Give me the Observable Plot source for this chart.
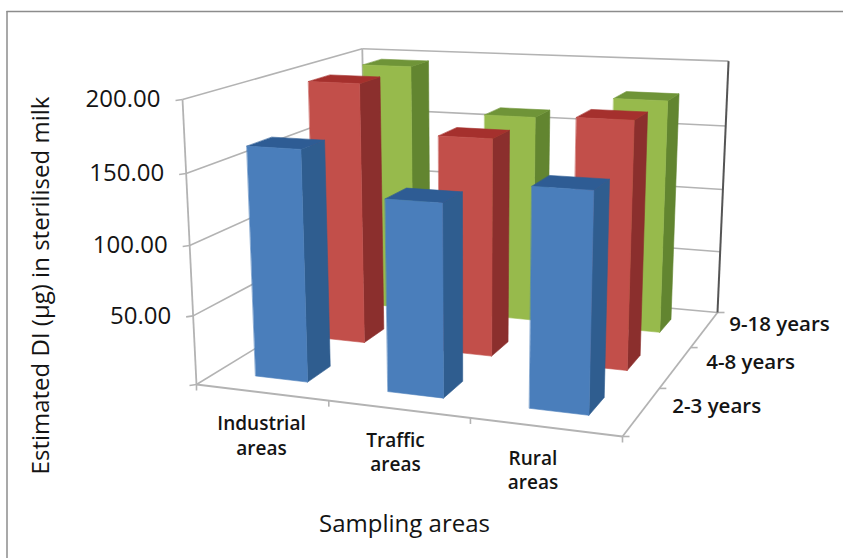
<!DOCTYPE html>
<html>
<head>
<meta charset="utf-8">
<style>
  html, body { margin: 0; padding: 0; background: #fff; }
  svg { display: block; }
</style>
<script src="https://cdn.jsdelivr.net/npm/d3@7/dist/d3.min.js"></script>
<script src="https://cdn.jsdelivr.net/npm/@observablehq/plot@0.6/dist/plot.umd.min.js"></script>
</head>
<body>
<script>
// Sampling areas run along the width of the chart, age groups along its depth.
const areas = ["Industrial\nareas", "Traffic\nareas", "Rural\nareas"];
const ageGroups = ["2-3 years", "4-8 years", "9-18 years"];
const valueTicks = [50, 100, 150, 200];

// Estimated daily intake per area, one list per age group.
const intake2to3 = [165, 135, 150];
const intake4to8 = [196, 161, 179];
const intake9to18 = [196, 161, 178];
const seriesValues = [intake2to3, intake4to8, intake9to18];

// Face colours per age group: front, side, top.
const shades = [
  ["#4a7ebb", "#2f5d8f", "#2e5c94"],
  ["#c24f4a", "#8b2f2d", "#a5302d"],
  ["#97ba4c", "#628530", "#6f9438"]
];

const gridColor = "#b3b3b3";
const textColor = "#141414";
const font = "Open Sans, sans-serif";

// Perspective camera: floor corners on the page plus the vanishing point of the verticals.
const camera = (() => {
  const [x0, y0] = [196, 384], [x1, y1] = [622, 436], [x2, y2] = [717, 312], [x3, y3] = [366, 280];
  const [vx, vy] = [469, 5950];
  const dx1 = x1 - x2, dx2 = x3 - x2, sx = x0 - x1 + x2 - x3;
  const dy1 = y1 - y2, dy2 = y3 - y2, sy = y0 - y1 + y2 - y3;
  const det = dx1 * dy2 - dx2 * dy1;
  const g = (sx * dy2 - dx2 * sy) / det;
  const h = (dx1 * sy - sx * dy1) / det;
  const a = x1 - x0 + g * x1, b = x3 - x0 + h * x3;
  const d = y1 - y0 + g * y1, e = y3 - y0 + h * y3;
  const k = (99 - y0) / ((vy - 99) * 200);
  return {a, b, c: x0, d, e, f: y0, g, h, k, vx, vy};
})();

// Projects (area position, depth position, value) to page coordinates.
function project(u, v, z) {
  const s = u / 3, t = v / 3, {a, b, c, d, e, f, g, h, k, vx, vy} = camera;
  const w = g * s + h * t + 1 + k * z;
  return [
    (a * s + b * t + c + k * z * vx) / w,
    (d * s + e * t + f + k * z * vy) / w
  ];
}

const segment = (p, q) => ({x1: project(...p)[0], y1: project(...p)[1], x2: project(...q)[0], y2: project(...q)[1]});
const pageOffset = (s, dx, dy) => ({x1: s.x1, y1: s.y1, x2: s.x1 + dx, y2: s.y1 + dy});

// Wall gridlines and the three axes.
const wallLines = [0, ...valueTicks].flatMap((z) => [
  segment([0, 0, z], [0, 3, z]),
  segment([0, 3, z], [3, 3, z])
]);
const frameLines = [
  segment([0, 0, 0], [0, 0, 200]),
  segment([0, 3, 0], [0, 3, 200]),
  segment([0, 0, 0], [3, 0, 0]),
  segment([3, 0, 0], [3, 3, 0])
];
const tickLines = [
  ...[0, ...valueTicks].map((z) => pageOffset(segment([0, 0, z], [0, 0, z]), -7, 1)),
  ...[0, 1, 2, 3].map((i) => pageOffset(segment([i, 0, 0], [i, 0, 0]), 0, 6)),
  ...[0, 1, 2, 3].map((j) => pageOffset(segment([3, j, 0], [3, j, 0]), 7, 0))
];

const widthGap = 0.3;
const depthGap = 0.31;

// Each bar is three polygons, painted from the back row forward.
const faces = [];
seriesValues.map((values, j) => ({values, j})).reverse().forEach(({values, j}) => {
  values.forEach((value, i) => {
    const u0 = i + widthGap, u1 = i + 1 - widthGap;
    const v0 = j + depthGap, v1 = j + 1 - depthGap;
    const polygons = [
      [shades[j][1], [[u1, v0, 0], [u1, v1, 0], [u1, v1, value], [u1, v0, value]]],
      [shades[j][2], [[u0, v0, value], [u1, v0, value], [u1, v1, value], [u0, v1, value]]],
      [shades[j][0], [[u0, v0, 0], [u1, v0, 0], [u1, v0, value], [u0, v0, value]]]
    ];
    polygons.forEach(([color, corners], n) => {
      corners.forEach((corner) => {
        const [x, y] = project(...corner);
        faces.push({x, y, color, face: `${j}-${i}-${n}`});
      });
    });
  });
});

const chart = Plot.plot({
  width: 843,
  height: 558,
  margin: 0,
  x: {domain: [0, 843], range: [0, 843], axis: null},
  y: {domain: [0, 558], range: [0, 558], axis: null},
  color: {type: "identity"},
  style: {background: "#fff", fontFamily: font},
  marks: [
    // outer border
    Plot.ruleX([6.5], {y1: 11, y2: 558, stroke: "#8c8c8c", strokeWidth: 1.5}),
    Plot.ruleY([11], {x1: 6.5, x2: 843, stroke: "#8c8c8c", strokeWidth: 1.5}),

    Plot.link(wallLines, {x1: "x1", y1: "y1", x2: "x2", y2: "y2", stroke: gridColor, strokeWidth: 1.6}),
    Plot.link(frameLines, {x1: "x1", y1: "y1", x2: "x2", y2: "y2", stroke: gridColor, strokeWidth: 1.8}),
    Plot.link(tickLines, {x1: "x1", y1: "y1", x2: "x2", y2: "y2", stroke: gridColor, strokeWidth: 1.6}),
    // the far vertical edge is drawn darker
    Plot.link([segment([3, 3, 0], [3, 3, 200])], {x1: "x1", y1: "y1", x2: "x2", y2: "y2", stroke: "#555", strokeWidth: 2}),

    Plot.line(faces, {x: "x", y: "y", z: "face", fill: "color", stroke: "color", strokeWidth: 0.6, curve: "linear-closed"}),

    // value labels
    Plot.text(valueTicks, {
      x: (z) => project(0, 0, z)[0],
      y: (z) => project(0, 0, z)[1],
      text: (z) => z.toFixed(2),
      textAnchor: "end",
      dx: -22,
      fontSize: 24,
      fontWeight: 500,
      fill: textColor
    }),
    // area labels
    Plot.text(areas, {
      x: (d, i) => project(i + 0.5 - 0.02 * i * i, 0, 0)[0],
      y: (d, i) => project(i + 0.5, 0, 0)[1],
      text: (d) => d,
      dy: 42,
      lineHeight: 1.3,
      fontSize: 19,
      fontWeight: 600,
      fill: textColor
    }),
    // age group labels
    Plot.text(ageGroups, {
      x: (d, j) => project(3, j + 0.5, 0)[0],
      y: (d, j) => project(3, j + 0.5, 0)[1],
      text: (d) => d,
      dx: 75,
      dy: -5,
      fontSize: 20.5,
      fontWeight: 600,
      fill: textColor
    }),
    // axis titles
    Plot.text(["Estimated DI (µg) in sterilised milk"], {
      x: () => 41, y: () => 285, text: (d) => d, rotate: -90, fontSize: 24, fontWeight: 500, fill: textColor
    }),
    Plot.text(["Sampling areas"], {
      x: () => 404, y: () => 524, text: (d) => d, fontSize: 24, fontWeight: 500, fill: textColor
    })
  ]
});
document.body.append(chart);
</script>
</body>
</html>
